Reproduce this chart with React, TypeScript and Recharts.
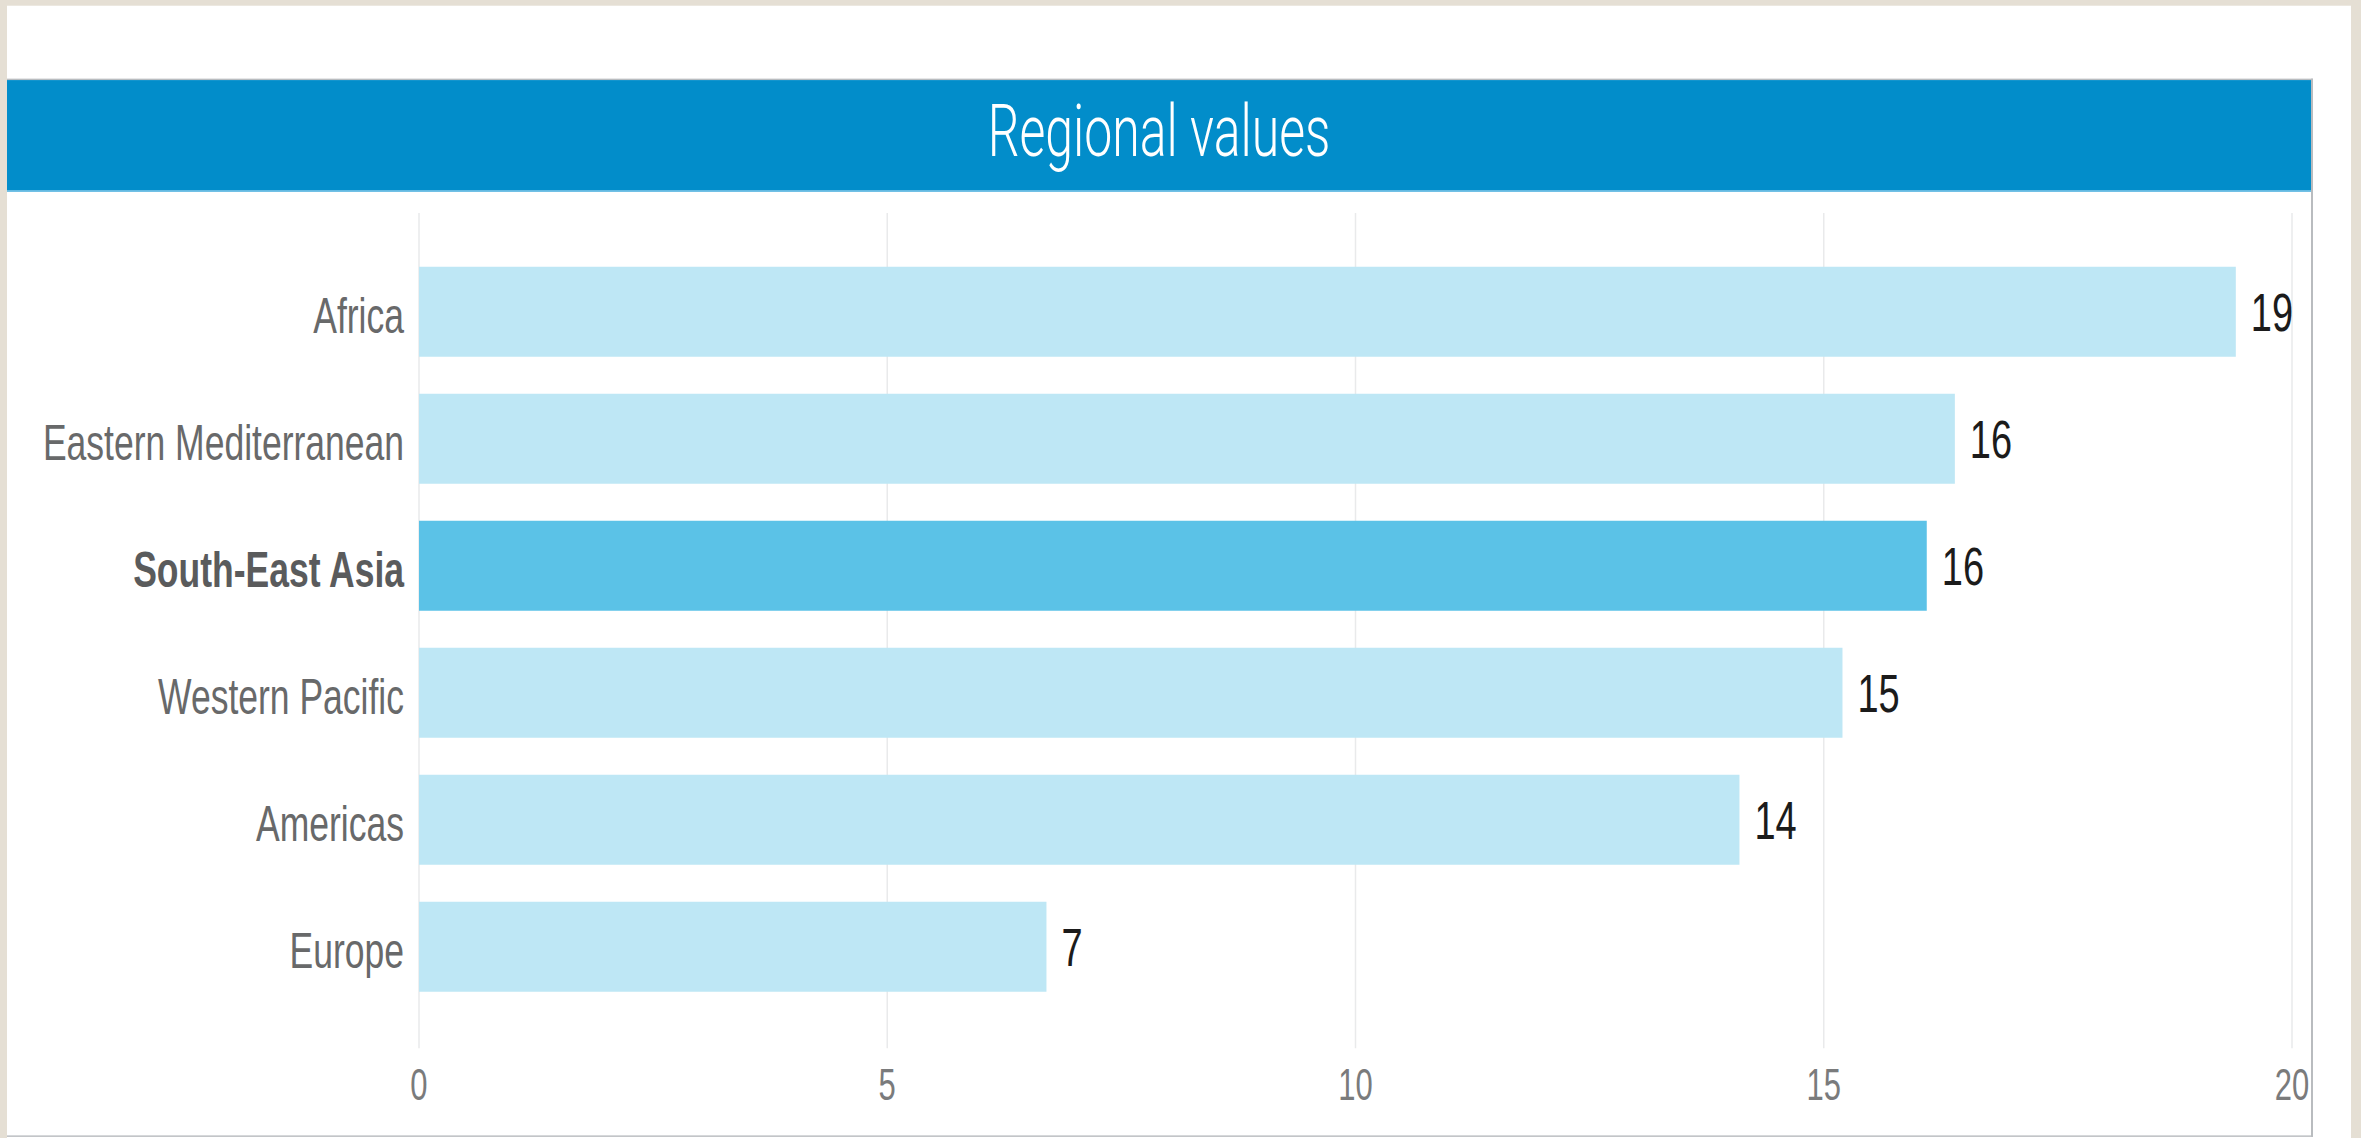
import React from "react"
import {
  Bar,
  BarChart,
  CartesianGrid,
  Cell,
  LabelList,
  XAxis,
  YAxis,
} from "recharts"

// values (labels are rounded)
const regions = [
  "Africa",
  "Eastern Mediterranean",
  "South-East Asia",
  "Western Pacific",
  "Americas",
  "Europe",
]
const values = [19.4, 16.4, 16.1, 15.2, 14.1, 6.7]
const xTicks = [0, 5, 10, 15, 20]
const highlighted = "South-East Asia"

const data = regions.map((region, i) => ({ region, value: values[i] }))

// the reference is stretched vertically; draw flat, then scale
const K = 1.43
const FONT = "'Liberation Sans', Arial, sans-serif"

function RegionTick(props: any) {
  const { x, y, payload } = props
  const bold = payload.value === highlighted
  return (
    <text
      x={x}
      y={y}
      dy="0.42em"
      textAnchor="end"
      fontFamily={FONT}
      fontSize={35.5}
      fontWeight={bold ? 700 : 400}
      fill={bold ? "#5a5b5c" : "#68696a"}
    >
      {payload.value}
    </text>
  )
}

export default function App() {
  return (
    <div
      style={{
        position: "absolute",
        left: 0,
        top: 0,
        width: 2361,
        height: 1138,
        background: "#e5dfd4",
        overflow: "hidden",
      }}
    >
      <div
        style={{
          position: "absolute",
          left: 0,
          top: 0,
          width: 2361,
          height: 1138 / K,
          transform: `scaleY(${K})`,
          transformOrigin: "0 0",
        }}
      >
        <div
          style={{
            position: "absolute",
            left: 7,
            top: 3.5,
            width: 2344,
            height: 800,
            background: "#ffffff",
          }}
        />
        <div
          style={{
            position: "absolute",
            left: 7,
            top: 54.5,
            width: 2304,
            height: 738,
            borderTop: "1.4px solid #b9bcbf",
            borderRight: "2px solid #b9bcbf",
            borderBottom: "1.4px solid #b9bcbf",
            background: "#ffffff",
          }}
        >
          <div
            style={{
              height: 78,
              background: "#028dca",
              borderBottom: "1px solid #7cc6e8",
              color: "#ffffff",
              fontFamily: "Roboto, 'Liberation Sans', sans-serif",
              fontWeight: 300,
              fontSize: 50,
              display: "flex",
              alignItems: "center",
              justifyContent: "center",
              paddingBottom: 5,
              boxSizing: "border-box",
            }}
          >
            Regional values
          </div>
          <BarChart
            width={2304}
            height={659}
            data={data}
            layout="vertical"
            margin={{ top: 15, right: 19, left: 12, bottom: 10 }}
          >
            <CartesianGrid
              horizontal={false}
              stroke="#e9eaeb"
              strokeWidth={1.5}
            />
            <XAxis
              type="number"
              domain={[0, 20]}
              ticks={xTicks}
              axisLine={false}
              tickLine={false}
              tickSize={0}
              tickMargin={14}
              height={50}
              tick={{ fontSize: 31, fill: "#7a7b7c", fontFamily: FONT }}
            />
            <YAxis
              type="category"
              dataKey="region"
              width={400}
              axisLine={false}
              tickLine={false}
              tickSize={0}
              tickMargin={15}
              padding={{ top: 24.5, bottom: 26.6 }}
              tick={<RegionTick />}
            />
            <Bar dataKey="value" barSize={63} isAnimationActive={false}>
              {data.map((d) => (
                <Cell
                  key={d.region}
                  fill={d.region === highlighted ? "#5bc2e7" : "#bee7f5"}
                />
              ))}
              <LabelList
                dataKey="value"
                position="right"
                offset={15}
                formatter={(v: any) => Math.round(Number(v))}
                fill="#1b1b1b"
                fontSize={38}
                fontFamily={FONT}
              />
            </Bar>
          </BarChart>
        </div>
      </div>
    </div>
  )
}
